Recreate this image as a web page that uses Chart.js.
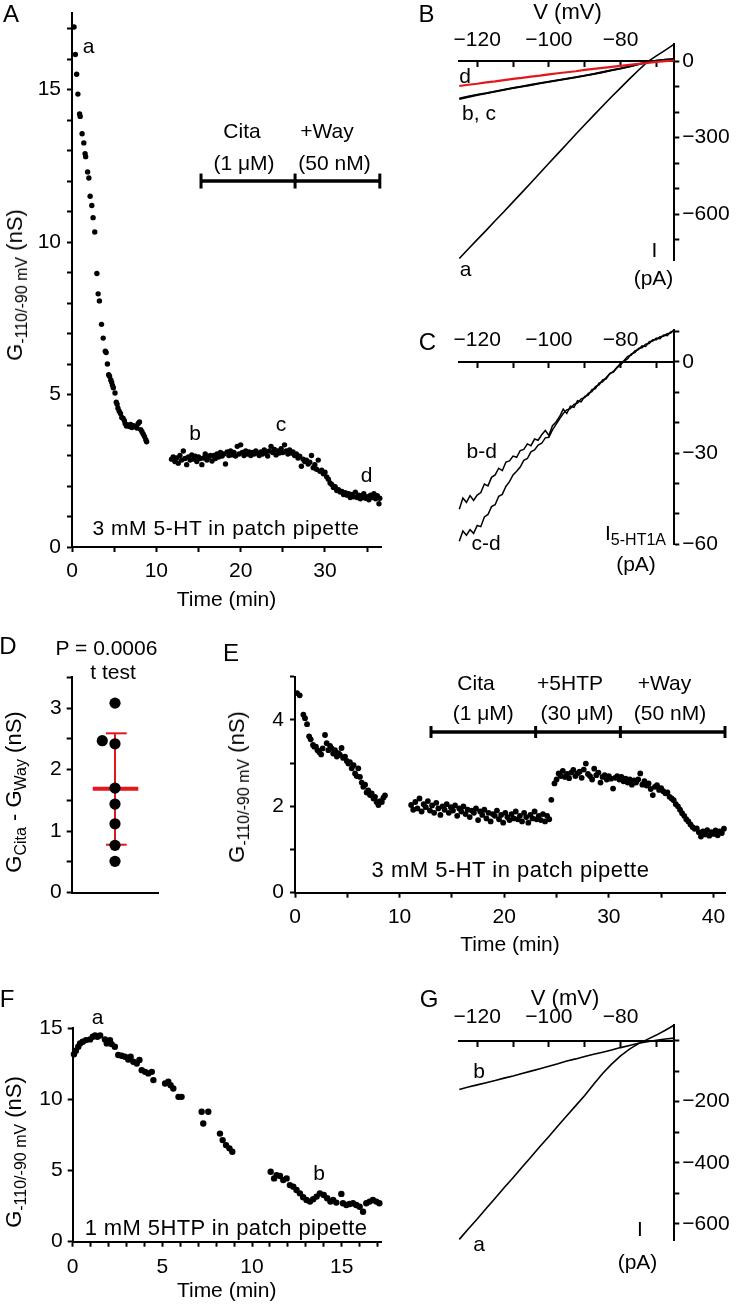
<!DOCTYPE html>
<html>
<head>
<meta charset="utf-8">
<script src="https://cdn.jsdelivr.net/npm/chart.js@4.4.1/dist/chart.umd.min.js"></script>
<style>
  html, body { margin: 0; padding: 0; background: #fff; }
  #page { position: relative; width: 738px; height: 1309px; overflow: hidden; background: #fff; }
  canvas { position: absolute; }
  .t { position: absolute; transform: translate(-50%, -50%); white-space: nowrap; line-height: 1;
       font-family: "Liberation Sans", Arial, Helvetica, sans-serif; font-size: 21px; color: #000; }
  .lt { font-size: 24px; }
  .rot { transform: translate(-50%, -50%) rotate(-90deg); font-size: 22px; }
  .t sub { font-size: 16px; line-height: 0; vertical-align: -5px; }
  .note { letter-spacing: 0.55px; font-size: 21px; }
</style>
</head>
<body>
<div id="page">
  <canvas id="cA"></canvas>
  <canvas id="cB"></canvas>
  <canvas id="cC"></canvas>
  <canvas id="cD"></canvas>
  <canvas id="cE"></canvas>
  <canvas id="cF"></canvas>
  <canvas id="cG"></canvas>

  <!-- panel letters -->
  <div class="t lt" style="left:11px;top:13.5px">A</div>
  <div class="t lt" style="left:426.5px;top:13.5px">B</div>
  <div class="t lt" style="left:427.5px;top:341.5px">C</div>
  <div class="t lt" style="left:8px;top:645.5px">D</div>
  <div class="t lt" style="left:231px;top:652.5px">E</div>
  <div class="t lt" style="left:7px;top:998.5px">F</div>
  <div class="t lt" style="left:429px;top:998.5px">G</div>

  <!-- A -->
  <div class="t" style="left:88.5px;top:45px">a</div>
  <div class="t" style="left:242px;top:129.5px">Cita</div>
  <div class="t" style="left:244px;top:162px">(1 μM)</div>
  <div class="t" style="left:327px;top:129.5px">+Way</div>
  <div class="t" style="left:334.5px;top:162px">(50 nM)</div>
  <div class="t" style="left:195px;top:432px">b</div>
  <div class="t" style="left:281px;top:423px">c</div>
  <div class="t" style="left:366.5px;top:473.5px">d</div>
  <div class="t note" style="left:226px;top:527px">3 mM 5-HT in patch pipette</div>
  <div class="t" style="left:226.5px;top:598px">Time (min)</div>
  <div class="t rot" style="left:15px;top:285px">G<sub>-110/-90 mV</sub> (nS)</div>

  <!-- B -->
  <div class="t" style="left:567.5px;top:12px;font-size:22px">V (mV)</div>
  <div class="t" style="left:465px;top:74.5px">d</div>
  <div class="t" style="left:479px;top:112px">b, c</div>
  <div class="t" style="left:465.5px;top:268px">a</div>
  <div class="t" style="left:654.5px;top:249px">I</div>
  <div class="t" style="left:653.5px;top:277px">(pA)</div>

  <!-- C -->
  <div class="t" style="left:481.7px;top:450px">b-d</div>
  <div class="t" style="left:486px;top:542px">c-d</div>
  <div class="t" style="left:635.5px;top:531.5px">I<sub>5-HT1A</sub></div>
  <div class="t" style="left:636px;top:563px">(pA)</div>

  <!-- D -->
  <div class="t" style="left:106.5px;top:647px">P = 0.0006</div>
  <div class="t" style="left:113px;top:670.5px">t test</div>
  <div class="t rot" style="left:14px;top:792px">G<sub>Cita</sub> - G<sub>Way</sub> (nS)</div>

  <!-- E -->
  <div class="t" style="left:476px;top:681.7px">Cita</div>
  <div class="t" style="left:483.3px;top:711.7px">(1 μM)</div>
  <div class="t" style="left:570px;top:681.7px">+5HTP</div>
  <div class="t" style="left:577px;top:711.7px">(30 μM)</div>
  <div class="t" style="left:664.5px;top:681.7px">+Way</div>
  <div class="t" style="left:670px;top:711.7px">(50 nM)</div>
  <div class="t note" style="left:510.5px;top:870px;font-size:22px;letter-spacing:0.5px">3 mM 5-HT in patch pipette</div>
  <div class="t" style="left:510px;top:943px">Time (min)</div>
  <div class="t rot" style="left:237px;top:787px">G<sub>-110/-90 mV</sub> (nS)</div>

  <!-- F -->
  <div class="t" style="left:97.5px;top:1015.5px">a</div>
  <div class="t" style="left:319px;top:1171.5px">b</div>
  <div class="t note" style="left:226px;top:1227.5px;font-size:22px;letter-spacing:0.4px">1 mM 5HTP in patch pipette</div>
  <div class="t" style="left:226.7px;top:1289px">Time (min)</div>
  <div class="t rot" style="left:14px;top:1152px">G<sub>-110/-90 mV</sub> (nS)</div>

  <!-- G -->
  <div class="t" style="left:565px;top:998px;font-size:22px">V (mV)</div>
  <div class="t" style="left:479px;top:1070px">b</div>
  <div class="t" style="left:479px;top:1243px">a</div>
  <div class="t" style="left:640px;top:1227.5px">I</div>
  <div class="t" style="left:637.5px;top:1261px">(pA)</div>
</div>

<script>
// ---------- data ----------

// A: conductance (nS) vs time (min), 3 mM 5-HT in pipette
const aEarly = [
  [0.24, 17.05], [0.4, 16.15], [0.55, 15.5], [0.7, 14.85], [0.9, 14.2], [0.97, 14.12],
  [1.2, 13.55], [1.4, 13.25], [1.55, 12.9], [1.62, 12.8], [1.85, 12.3], [2.0, 12.1],
  [2.15, 11.5], [2.35, 11.2], [2.5, 10.8], [2.7, 10.33], [2.95, 8.97], [3.1, 8.3],
  [3.25, 8.07], [3.5, 7.3], [3.7, 6.85], [3.95, 6.42], [4.05, 6.38], [4.2, 6.0],
  [4.35, 5.65], [4.45, 5.6], [4.6, 5.48], [4.7, 5.4], [4.8, 5.3], [4.9, 5.22],
  [5.1, 5.05], [5.25, 4.75], [5.35, 4.68], [5.45, 4.55], [5.6, 4.45], [5.75, 4.38],
  [5.9, 4.25], [6.05, 4.22], [6.2, 4.15], [6.3, 4.05], [6.45, 3.97], [6.6, 4.0],
  [6.8, 3.95], [6.95, 4.02], [7.1, 3.92], [7.3, 3.98], [7.5, 3.95], [7.7, 3.9],
  [7.85, 4.05], [8.0, 4.1], [8.15, 3.85], [8.3, 3.78], [8.45, 3.7], [8.6, 3.62],
  [8.75, 3.52], [8.85, 3.45]
];
const aLate = [
  [11.8, 2.88], [12.0, 2.95], [12.2, 2.8], [12.4, 2.92], [12.6, 2.75], [12.8, 3.0],
  [13.0, 2.85], [13.2, 3.15], [13.4, 2.9], [13.6, 2.7], [13.8, 2.95], [14.0, 2.85],
  [14.2, 3.02], [14.4, 2.88], [14.6, 2.98], [14.8, 2.8], [15.0, 2.95], [15.2, 2.9],
  [15.4, 2.7], [15.6, 2.92], [15.8, 3.05], [16.0, 2.85], [16.2, 2.95], [16.4, 3.0],
  [16.6, 2.82], [16.8, 3.0], [17.0, 2.9], [17.2, 3.05], [17.4, 2.95], [17.6, 3.1],
  [17.8, 2.98], [18.0, 3.05], [18.2, 2.72], [18.4, 3.12], [18.6, 3.0], [18.8, 3.15],
  [19.0, 3.02], [19.2, 3.1], [19.4, 2.98], [19.6, 3.3], [19.8, 3.05], [20.0, 3.35],
  [20.2, 3.1], [20.4, 3.0], [20.6, 3.15], [20.8, 3.05], [21.0, 3.12], [21.2, 3.0],
  [21.4, 3.1], [21.6, 3.05], [21.8, 3.15], [22.0, 3.08], [22.2, 3.0], [22.4, 3.12],
  [22.6, 3.05], [22.8, 3.18], [23.0, 3.1], [23.2, 2.98], [23.4, 3.15], [23.6, 3.3],
  [23.8, 3.1], [24.0, 3.2], [24.2, 3.02], [24.4, 3.15], [24.6, 3.08], [24.8, 3.22],
  [25.0, 3.1], [25.2, 3.35], [25.4, 3.15], [25.6, 3.05], [25.8, 3.18], [26.0, 3.08],
  [26.2, 3.12], [26.4, 3.0], [26.6, 3.05], [26.8, 2.92], [27.0, 2.98], [27.2, 2.65],
  [27.4, 2.88], [27.6, 2.8], [27.8, 2.85], [28.0, 2.72], [28.2, 2.78], [28.4, 3.0],
  [28.6, 2.6], [28.8, 2.7], [29.0, 2.55], [29.2, 2.85], [29.4, 2.48], [29.6, 2.52],
  [29.8, 2.4], [30.0, 2.45], [30.2, 2.3], [30.4, 2.22], [30.6, 2.1], [30.8, 2.05],
  [31.0, 1.95], [31.2, 1.98], [31.4, 1.85], [31.6, 1.88], [31.8, 1.8], [32.0, 1.82],
  [32.2, 1.72], [32.4, 1.78], [32.6, 1.7], [32.8, 1.75], [33.0, 1.62], [33.2, 1.72],
  [33.4, 1.65], [33.6, 1.8], [33.8, 1.62], [34.0, 1.7], [34.2, 1.58], [34.4, 1.68],
  [34.6, 1.75], [34.8, 1.6], [35.0, 1.65], [35.2, 1.55], [35.4, 1.7], [35.6, 1.62],
  [35.8, 1.75], [36.0, 1.58], [36.2, 1.68], [36.4, 1.42], [36.5, 1.6]
];
const aBarTimes = [15.3, 26.45, 36.5];   // Cita | +Way
const aBarLevel = 12;
const aXTicks = [0, 5, 10, 15, 20, 25, 30, 35];
const aXLabels = [0, 10, 20, 30];
const aYTicks = [0, 1, 2, 3, 4, 5, 6, 7, 8, 9, 10, 11, 12, 13, 14, 15, 16, 17];
const aYLabels = [0, 5, 10, 15];

// B: I-V curves a, b, c, d
const ivVolt = [-125, -122.5, -120, -117.5, -115, -112.5, -110, -107.5, -105, -102.5, -100,
  -97.5, -95, -92.5, -90, -87.5, -85, -82.5, -80, -77.5, -75, -72.5, -70, -67.5, -65];
const bCurA = [-774, -737, -700, -664, -626, -590, -552, -515, -477, -439, -401, -363, -325,
  -287, -250, -213, -176, -140, -105, -70, -36, -3, 20, 43, 66];
const bCurB = [-149, -141, -134, -127, -120, -113, -106, -100, -94, -88, -82, -76, -70,
  -64, -57, -51, -44, -37, -30, -22, -13, -4, 2, 5, 8];
const bCurC = [-146, -139, -132, -126, -119, -112, -105, -99, -93, -87, -81, -75, -69,
  -63, -57, -50, -43, -36, -29, -21, -12, -4, 2, 5, 7];
const bCurD = [-98, -93, -89, -84, -80, -75, -70, -66, -61, -57, -52, -48, -44,
  -40, -35, -31, -27, -23, -19, -15, -11, -7, -3, 0, 2];
const vTicks = [-120, -110, -100, -90, -80, -70];
const vLabels = [-120, -100, -80];
const bYTicks = [-700, -600, -500, -400, -300, -200, -100, 0];
const bYLabels = [0, -300, -600];

// C: 5-HT1A current (difference traces)
const cVolt = [-125, -124, -123, -122, -121, -120, -119, -118, -117, -116, -115, -114, -113,
  -112, -111, -110, -109, -108, -107, -106, -105, -104, -103, -102, -101, -100, -99, -98,
  -97, -96, -95, -94, -93, -92, -91, -90, -89, -88, -87, -86, -85, -84, -83, -82, -81,
  -80, -79, -78, -77, -76, -75, -74, -73, -72, -71, -70, -69, -68, -67, -66, -65];
const cBD = [-48.5, -44.8, -46.2, -44.0, -45.6, -43.8, -43.0, -40.2, -40.8, -38.0, -37.2,
  -35.0, -35.8, -33.0, -32.6, -31.0, -31.4, -29.2, -28.8, -27.0, -27.6, -25.4, -25.8, -24.0,
  -22.6, -24.2, -21.0, -19.8, -18.0, -15.6, -17.0, -14.6, -15.0, -12.8, -13.2, -11.4, -11.0,
  -9.2, -8.8, -7.0, -6.6, -5.2, -4.0, -3.2, -1.8, -0.6, 0.4, 1.8, 2.2, 3.6, 4.0, 5.2, 5.0,
  6.6, 6.8, 7.8, 7.6, 8.8, 8.6, 9.8, 10.2];
const cCD = [-59.0, -55.6, -57.0, -55.2, -56.4, -53.8, -54.2, -51.0, -50.2, -47.6, -47.0,
  -44.2, -43.6, -41.0, -39.4, -37.2, -36.0, -34.6, -32.4, -31.8, -29.6, -29.0, -27.4, -26.8,
  -25.0, -24.8, -22.4, -20.6, -18.8, -17.0, -15.8, -15.4, -14.0, -13.6, -12.2, -11.8, -10.4,
  -9.8, -8.2, -7.6, -6.0, -5.6, -3.8, -3.4, -2.0, -1.0, 0.2, 1.0, 2.6, 3.0, 4.4, 4.6, 5.8,
  6.0, 7.2, 7.2, 8.2, 8.4, 9.2, 9.4, 10.6];
const cYTicks = [-60, -50, -40, -30, -20, -10, 0, 10];
const cYLabels = [0, -30, -60];

// D: G(Cita) - G(Way) per cell, mean and SD
const dVals = [3.08, 2.47, 2.42, 1.70, 1.44, 1.12, 0.77, 0.51];
const dPos = [0.5, 0.353, 0.5, 0.5, 0.5, 0.5, 0.5, 0.5];
const dMean = 1.69;
const dLow = 0.78;
const dHigh = 2.59;
const dYTicks = [0, 0.5, 1, 1.5, 2, 2.5, 3, 3.5];
const dYLabels = [0, 1, 2, 3];

// E: conductance vs time, Cita, +5HTP, +Way
const eEarly = [
  [0.2, 4.62], [0.45, 4.57], [0.8, 4.12], [0.96, 4.04], [1.15, 3.9], [1.35, 3.62],
  [1.5, 3.55], [1.72, 3.42], [1.85, 3.38], [2.0, 3.38], [2.15, 3.3], [2.33, 3.25],
  [2.5, 3.2], [2.64, 3.34], [2.87, 3.65], [3.03, 3.46], [3.19, 3.3], [3.35, 3.4],
  [3.5, 3.34], [3.65, 3.22], [3.82, 3.3], [4.0, 3.15], [4.15, 3.23], [4.3, 3.19],
  [4.45, 3.35], [4.6, 3.12], [4.78, 3.15], [4.95, 3.05], [5.1, 2.99], [5.25, 3.02],
  [5.42, 2.88], [5.6, 2.95], [5.74, 2.76], [5.9, 2.7], [6.05, 2.88], [6.21, 2.68],
  [6.38, 2.55], [6.53, 2.45], [6.7, 2.5], [6.85, 2.32], [7.0, 2.37], [7.17, 2.26],
  [7.33, 2.3], [7.5, 2.18], [7.65, 2.22], [7.8, 2.1], [7.97, 2.03], [8.12, 2.12],
  [8.3, 2.1], [8.45, 2.2], [8.6, 2.25]
];
const eLate = [
  [11.1, 2.03], [11.3, 1.92], [11.5, 2.1], [11.7, 1.95], [11.9, 2.18], [12.1, 1.88],
  [12.3, 2.05], [12.5, 1.98], [12.7, 2.12], [12.9, 1.9], [13.1, 2.02], [13.3, 1.85],
  [13.5, 2.08], [13.7, 1.95], [13.9, 1.8], [14.1, 2.0], [14.3, 1.92], [14.5, 2.05],
  [14.7, 1.85], [14.9, 1.98], [15.1, 1.9], [15.3, 2.02], [15.5, 1.78], [15.7, 1.95],
  [15.9, 1.88], [16.1, 2.0], [16.3, 1.82], [16.5, 1.92], [16.7, 1.75], [16.9, 1.9],
  [17.1, 1.85], [17.3, 1.95], [17.5, 1.68], [17.7, 1.88], [17.9, 1.8], [18.1, 1.92],
  [18.3, 1.72], [18.5, 1.85], [18.7, 1.65], [18.9, 1.82], [19.1, 1.78], [19.3, 1.9],
  [19.5, 1.7], [19.7, 1.8], [19.9, 1.62], [20.1, 1.85], [20.3, 1.75], [20.5, 1.68],
  [20.7, 1.82], [20.9, 1.72], [21.1, 1.88], [21.3, 1.7], [21.5, 1.78], [21.7, 1.65],
  [21.9, 1.85], [22.1, 1.75], [22.3, 1.62], [22.5, 1.8], [22.7, 1.72], [22.9, 1.88],
  [23.1, 1.7], [23.3, 1.78], [23.5, 1.68], [23.7, 1.82], [23.9, 1.65], [24.1, 1.78],
  [24.3, 1.7], [24.5, 2.15], [24.8, 2.53], [25.0, 2.62], [25.2, 2.76], [25.4, 2.7],
  [25.6, 2.82], [25.8, 2.68], [26.0, 2.75], [26.2, 2.65], [26.4, 2.78], [26.6, 2.84],
  [26.8, 2.7], [27.0, 2.76], [27.2, 2.8], [27.4, 2.66], [27.6, 2.85], [27.8, 2.99],
  [28.0, 2.75], [28.2, 2.7], [28.4, 2.62], [28.6, 2.87], [28.8, 2.72], [29.0, 2.78],
  [29.2, 2.55], [29.4, 2.68], [29.6, 2.72], [29.8, 2.62], [30.0, 2.7], [30.2, 2.64],
  [30.4, 2.41], [30.6, 2.66], [30.8, 2.7], [31.0, 2.62], [31.2, 2.68], [31.4, 2.58],
  [31.6, 2.64], [31.8, 2.55], [32.0, 2.62], [32.2, 2.5], [32.4, 2.6], [32.6, 2.55],
  [32.8, 2.62], [33.0, 2.76], [33.2, 2.5], [33.4, 2.58], [33.6, 2.48], [33.8, 2.53],
  [34.0, 2.4], [34.2, 2.26], [34.4, 2.45], [34.6, 2.49], [34.8, 2.38], [35.0, 2.42],
  [35.2, 2.35], [35.4, 2.3], [35.6, 2.32], [35.8, 2.22], [36.0, 2.18], [36.2, 2.14],
  [36.4, 2.05], [36.6, 2.0], [36.8, 1.92], [37.0, 1.84], [37.2, 1.78], [37.4, 1.7],
  [37.6, 1.65], [37.8, 1.58], [38.0, 1.52], [38.2, 1.48], [38.4, 1.49], [38.6, 1.4],
  [38.8, 1.3], [39.0, 1.42], [39.2, 1.35], [39.4, 1.45], [39.6, 1.32], [39.8, 1.4],
  [40.0, 1.36], [40.2, 1.44], [40.4, 1.33], [40.6, 1.42], [40.8, 1.38], [41.0, 1.48]
];
const eBarTimes = [13, 23, 31.1, 41.1];   // Cita | +5HTP | +Way
const eBarLevel = 3.72;
const eXTicks = [0, 5, 10, 15, 20, 25, 30, 35, 40];
const eXLabels = [0, 10, 20, 30, 40];
const eYTicks = [0, 1, 2, 3, 4, 5];
const eYLabels = [0, 2, 4];

// F: conductance vs time, 1 mM 5HTP in pipette
const fPts = [
  [0.07, 13.18], [0.18, 13.42], [0.31, 13.7], [0.41, 13.94], [0.56, 14.05], [0.74, 14.17],
  [0.97, 14.22], [1.12, 14.41], [1.25, 14.5], [1.38, 14.41], [1.53, 14.5], [1.8, 14.22],
  [1.9, 13.94], [2.08, 14.17], [2.17, 13.89], [2.35, 13.7], [2.54, 13.12], [2.73, 13.07],
  [2.92, 13.0], [3.1, 12.8], [3.23, 13.0], [3.38, 12.65], [3.57, 12.53], [3.72, 12.77],
  [3.85, 12.06], [4.04, 11.94], [4.22, 11.83], [4.41, 11.94], [4.5, 11.36], [5.15, 11.12],
  [5.33, 11.24], [5.46, 11.0], [5.61, 10.77], [5.9, 10.18], [6.07, 10.18], [7.19, 9.13],
  [7.28, 8.31], [7.56, 9.13], [8.21, 7.6], [8.36, 7.14], [8.55, 6.79], [8.74, 6.56],
  [8.9, 6.32], [11.04, 4.92], [11.23, 4.45], [11.37, 4.68], [11.56, 4.62], [11.74, 4.33],
  [11.93, 4.45], [12.11, 3.98], [12.3, 3.87], [12.48, 3.63], [12.67, 3.4], [12.85, 3.12],
  [13.04, 2.93], [13.23, 2.82], [13.41, 2.98], [13.6, 3.17], [13.78, 3.4], [14.0, 3.28],
  [14.19, 3.05], [14.37, 2.82], [14.52, 2.93], [14.7, 2.75], [14.98, 3.36], [15.07, 2.7],
  [15.26, 2.58], [15.44, 2.65], [15.63, 2.7], [15.81, 2.58], [16.0, 2.46], [16.19, 2.11],
  [16.37, 2.7], [16.56, 2.82], [16.74, 2.93], [16.93, 2.82], [17.1, 2.7]
];
const fXTicks = [0, 1, 2, 3, 4, 5, 6, 7, 8, 9, 10, 11, 12, 13, 14, 15, 16, 17];
const fXLabels = [0, 5, 10, 15];
const fYTicks = [0, 5, 10, 15];
const fYLabels = [0, 5, 10, 15];

// G: I-V curves a, b
const gCurA = [-651, -617, -584, -550, -516, -482, -449, -415, -381, -347, -314, -280, -246,
  -213, -180, -143, -108, -77, -50, -28, -10, 4, 18, 34, 51];
const gCurB = [-160, -152, -145, -138, -131, -123, -116, -108, -100, -92, -84, -76, -67,
  -60, -52, -45, -38, -31, -23, -16, -9, -4, 1, 5, 8];
const gYTicks = [-600, -500, -400, -300, -200, -100, 0];
const gYLabels = [-200, -400, -600];

// ---------- drawing ----------
Chart.defaults.font.family = '"Liberation Sans", Arial, Helvetica, sans-serif';
Chart.defaults.font.size = 21;
Chart.defaults.color = '#000';

const RED = '#e3161c';

function fmt(v) {
  return v < 0 ? '\u2212' + Math.abs(v) : String(v);
}

function axis(min, max, position, ticks, labels, pad, hideTicks) {
  return {
    type: 'linear', min: min, max: max, position: position,
    border: { display: true, color: '#000', width: 2 },
    grid: { drawOnChartArea: false, drawTicks: !hideTicks, tickLength: 5, tickWidth: 2, tickColor: '#000' },
    ticks: {
      display: !hideTicks, padding: pad, autoSkip: false, maxRotation: 0, minRotation: 0, color: '#000',
      callback: (v) => labels.includes(v) ? fmt(v) : ''
    },
    afterBuildTicks: (s) => { s.ticks = ticks.map((v) => ({ value: v })); }
  };
}

function dots(pts, r) {
  return {
    data: pts.map((p) => ({ x: p[0], y: p[1] })),
    showLine: false, pointRadius: r, pointBackgroundColor: '#000', pointBorderWidth: 0, clip: false
  };
}

function curve(xs, ys, color, w) {
  return {
    data: xs.map((x, i) => ({ x: x, y: ys[i] })),
    showLine: true, borderColor: color, borderWidth: w, pointRadius: 0, tension: 0, clip: false
  };
}

function drugBar(times, level, r) {
  return {
    data: times.map((t) => ({ x: t, y: level })),
    showLine: true, borderColor: '#000', borderWidth: 3.5,
    pointStyle: 'line', pointRotation: 90, pointRadius: r,
    pointBorderColor: '#000', pointBorderWidth: 3, clip: false
  };
}

// box: canvas rectangle on the page, area: wanted plot rectangle on the page.
// Each axis box is sized to fill the gap between plot and canvas edge so labels are not clipped.
function panel(id, box, area, scales, datasets) {
  const cv = document.getElementById(id);
  cv.width = box.w;
  cv.height = box.h;
  cv.style.left = box.x + 'px';
  cv.style.top = box.y + 'px';
  const gap = {
    left: area.l - box.x, top: area.t - box.y,
    right: box.x + box.w - area.r, bottom: box.y + box.h - area.b
  };
  const pad = Object.assign({}, gap);
  Object.values(scales).forEach((sc) => {
    const pos = sc.position;
    let size = 0;
    if (typeof pos === 'string') { size = gap[pos]; pad[pos] = 0; }
    sc.afterFit = (s) => {
      if (s.isHorizontal()) s.height = size; else s.width = size;
      s.paddingLeft = 0; s.paddingRight = 0; s.paddingTop = 0; s.paddingBottom = 0;
    };
  });
  return new Chart(cv, {
    type: 'scatter',
    data: { datasets: datasets },
    options: {
      responsive: false,
      animation: false,
      devicePixelRatio: 1,
      events: [],
      layout: { autoPadding: false, padding: pad },
      plugins: { legend: { display: false }, tooltip: { enabled: false } },
      scales: scales
    }
  });
}

// A
panel('cA', { x: 0, y: 0, w: 400, h: 610 }, { l: 72, t: 13.3, r: 381.5, b: 547 }, {
  x: axis(0, 36.7, 'bottom', aXTicks, aXLabels, 7),
  y: axis(0, 17.5, 'left', aYTicks, aYLabels, 6)
}, [dots(aEarly, 2.7), dots(aLate, 2.7), drugBar(aBarTimes, aBarLevel, 7.5)]);

// B
panel('cB', { x: 400, y: 0, w: 338, h: 300 }, { l: 459.3, t: 44.2, r: 674.3, b: 260 }, {
  x: axis(-125, -65, { y: 0 }, vTicks, vLabels, -38.6),
  y: axis(-780, 66, 'right', bYTicks, bYLabels, 3)
}, [curve(ivVolt, bCurD, RED, 2.2), curve(ivVolt, bCurA, '#000', 1.6),
    curve(ivVolt, bCurB, '#000', 1.8), curve(ivVolt, bCurC, '#000', 1.8)]);

// C
panel('cC', { x: 400, y: 300, w: 338, h: 310 }, { l: 459.3, t: 329.5, r: 674.3, b: 544.3 }, {
  x: axis(-125, -65, { y: 0 }, vTicks, vLabels, -39.3),
  y: axis(-60, 10.6, 'right', cYTicks, cYLabels, 3)
}, [curve(cVolt, cBD, '#000', 1.5), curve(cVolt, cCD, '#000', 1.5)]);

// D
const dMeanLine = [[0.243, dMean], [0.769, dMean]];
const dSdLine = [[0.5, dLow], [0.5, dHigh]];
const dCapLow = [[0.396, dLow], [0.635, dLow]];
const dCapHigh = [[0.396, dHigh], [0.635, dHigh]];
panel('cD', { x: 0, y: 610, w: 180, h: 300 }, { l: 71.7, t: 676.7, r: 158.3, b: 892.7 }, {
  x: axis(0, 1, 'bottom', [], [], 0, true),
  y: axis(0, 3.51, 'left', dYTicks, dYLabels, 5)
}, [
  dots(dVals.map((v, i) => [dPos[i], v]), 5.6),
  curve(dMeanLine.map((p) => p[0]), dMeanLine.map((p) => p[1]), RED, 4),
  curve(dSdLine.map((p) => p[0]), dSdLine.map((p) => p[1]), RED, 2),
  curve(dCapLow.map((p) => p[0]), dCapLow.map((p) => p[1]), RED, 2),
  curve(dCapHigh.map((p) => p[0]), dCapHigh.map((p) => p[1]), RED, 2)
]);

// E
panel('cE', { x: 170, y: 610, w: 568, h: 350 }, { l: 295, t: 676.7, r: 725, b: 892.7 }, {
  x: axis(0, 41.1, 'bottom', eXTicks, eXLabels, 7),
  y: axis(0, 5, 'left', eYTicks, eYLabels, 6)
}, [dots(eEarly, 2.9), dots(eLate, 2.9), drugBar(eBarTimes, eBarLevel, 6)]);

// F
panel('cF', { x: 0, y: 960, w: 400, h: 349 }, { l: 72.7, t: 1028.3, r: 381.7, b: 1241.7 }, {
  x: axis(0, 17.23, 'bottom', fXTicks, fXLabels, 8),
  y: axis(0, 15, 'left', fYTicks, fYLabels, 5)
}, [dots(fPts, 3.2)]);

// G
panel('cG', { x: 400, y: 960, w: 338, h: 349 }, { l: 459.3, t: 1025, r: 674.3, b: 1240 }, {
  x: axis(-125, -65, { y: 0 }, vTicks, vLabels, -41),
  y: axis(-653, 51, 'right', gYTicks, gYLabels, 3)
}, [curve(ivVolt, gCurA, '#000', 1.6), curve(ivVolt, gCurB, '#000', 1.6)]);
</script>
</body>
</html>
